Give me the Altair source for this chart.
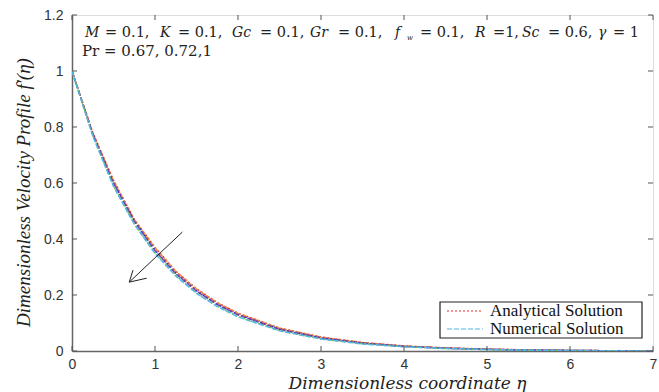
import altair as alt
import pandas as pd

eta = [0, 0.25, 0.5, 0.75, 1, 1.25, 1.5, 1.75, 2, 2.5, 3, 3.5, 4, 4.5, 5, 5.5, 6, 6.5, 7]
a_067 = [1, 0.78, 0.61, 0.47, 0.37, 0.285, 0.222, 0.173, 0.135, 0.082, 0.050, 0.030, 0.018, 0.011, 0.007, 0.004, 0.002, 0.001, 0.0]
n_067 = [1, 0.779, 0.608, 0.469, 0.368, 0.284, 0.221, 0.172, 0.134, 0.081, 0.049, 0.030, 0.018, 0.011, 0.006, 0.004, 0.002, 0.001, 0.0]
a_072 = [1, 0.775, 0.60, 0.465, 0.36, 0.278, 0.215, 0.167, 0.130, 0.078, 0.047, 0.028, 0.017, 0.010, 0.006, 0.0035, 0.002, 0.001, 0.0]
n_072 = [1, 0.774, 0.599, 0.463, 0.358, 0.276, 0.214, 0.166, 0.129, 0.077, 0.046, 0.028, 0.016, 0.010, 0.006, 0.003, 0.002, 0.001, 0.0]
a_1 = [1, 0.77, 0.59, 0.455, 0.35, 0.27, 0.207, 0.160, 0.123, 0.073, 0.043, 0.026, 0.015, 0.009, 0.005, 0.003, 0.0015, 0.0007, 0.0]
n_1 = [1, 0.768, 0.588, 0.453, 0.348, 0.268, 0.206, 0.159, 0.122, 0.072, 0.043, 0.025, 0.015, 0.009, 0.005, 0.003, 0.0015, 0.0007, 0.0]

series = {
    "Analytical Solution": a_067,
    "n067": n_067,
    "a072": a_072,
    "n072": n_072,
    "a1": a_1,
    "Numerical Solution": n_1,
}
series_order = ["Analytical Solution", "n067", "a072", "n072", "a1", "Numerical Solution"]
series_colors = ["#e8312a", "#f08a3c", "#2038c8", "#7a3aa8", "#7cc04a", "#4cb8e8"]
series_dash = [[2, 2], [5, 2], [2, 2], [5, 2], [2, 2], [5, 2]]

rows = []
for name in series_order:
    for e, v in zip(eta, series[name]):
        rows.append({"eta": e, "f": v, "series": name})
df = pd.DataFrame(rows)

# annotation arrow (data coordinates)
arrow_x = [1.33, 0.69]
arrow_y = [0.425, 0.246]
barb_x = [0.735, 0.90]
barb_y = [0.289, 0.26]

x_ticks = [0, 1, 2, 3, 4, 5, 6, 7]
y_ticks = [0, 0.2, 0.4, 0.6, 0.8, 1.0, 1.2]

# parameter annotation pieces
param_vars = ["M", "K", "Gc", "Gr", "f", "R", "Sc", "γ"]
param_var_x = [0.157, 1.060, 1.928, 2.867, 3.892, 4.855, 5.422, 6.337]
param_vals = ["= 0.1,", "= 0.1,", "= 0.1,", "= 0.1,", "= 0.1,", "=1,", "= 0.6,", "= 1"]
param_val_x = [0.398, 1.277, 2.265, 3.205, 4.193, 5.072, 5.735, 6.518]
param_y = 1.136
pr_text = "Pr = 0.67, 0.72,1"
pr_x, pr_y = 0.120, 1.07

legend_labels = ["Analytical Solution", "Numerical Solution"]
legend_colors = ["#e8312a", "#4cb8e8"]
legend_dash = [[2, 2], [5, 2]]

W, H = 581, 336
serif = "Liberation Serif"
dserif = "DejaVu Serif"
sans = "Liberation Sans"

xs = alt.Scale(domain=[0, 7], nice=False, zero=False)
ys = alt.Scale(domain=[0, 1.2], nice=False, zero=False)

lines = alt.Chart(df).mark_line(strokeWidth=1.5, clip=True).encode(
    x=alt.X("eta:Q", scale=xs,
            axis=alt.Axis(values=x_ticks, format="~g", title="Dimensionless coordinate η", ticks=False,
                          labelFont=sans, labelFontSize=14, labelColor="#333", labelFlush=False,
                          titleFont=dserif, titleFontStyle="italic", titleFontWeight="normal",
                          titleFontSize=17, titleColor="#222", titlePadding=4, titleX=335,
                          domainColor="#666", domainWidth=1.5, grid=False, labelPadding=6)),
    y=alt.Y("f:Q", scale=ys,
            axis=alt.Axis(values=y_ticks, format="~g", title="Dimensionless Velocity Profile  f′(η)", ticks=False,
                          labelFont=sans, labelFontSize=14, labelColor="#333", labelFlush=False,
                          titleFont=serif, titleFontStyle="italic", titleFontWeight="normal",
                          titleFontSize=19, titleColor="#222", titlePadding=10, titleY=177,
                          domainColor="#666", domainWidth=1.5, grid=False, labelPadding=9)),
    color=alt.Color("series:N", scale=alt.Scale(domain=series_order, range=series_colors), legend=None),
    strokeDash=alt.StrokeDash("series:N", scale=alt.Scale(domain=series_order, range=series_dash),
                              legend=None),
    order=alt.Order("eta:Q"),
)

arrow_df = pd.DataFrame({"x": arrow_x, "y": arrow_y})
arrow = alt.Chart(arrow_df).mark_line(color="#222", strokeWidth=1).encode(x="x:Q", y="y:Q")
barb_df = pd.DataFrame({"x": [arrow_x[1], arrow_x[1]], "y": [arrow_y[1], arrow_y[1]],
                        "x2": barb_x, "y2": barb_y})
barbs = alt.Chart(barb_df).mark_rule(color="#222", strokeWidth=1).encode(
    x="x:Q", y="y:Q", x2="x2:Q", y2="y2:Q")

xt_df = pd.DataFrame({"t": x_ticks})
yt_df = pd.DataFrame({"t": y_ticks})
tick_style = dict(color="#555", strokeWidth=1)
xt_bot = alt.Chart(xt_df).mark_rule(**tick_style).encode(x="t:Q", y=alt.value(H), y2=alt.value(H - 5))
xt_top = alt.Chart(xt_df).mark_rule(**tick_style).encode(x="t:Q", y=alt.value(0), y2=alt.value(5))
yt_left = alt.Chart(yt_df).mark_rule(**tick_style).encode(y="t:Q", x=alt.value(0), x2=alt.value(5))
yt_right = alt.Chart(yt_df).mark_rule(**tick_style).encode(y="t:Q", x=alt.value(W), x2=alt.value(W - 5))

var_df = pd.DataFrame({"text": param_vars, "x": param_var_x, "y": [param_y] * len(param_vars)})
val_df = pd.DataFrame({"text": param_vals, "x": param_val_x, "y": [param_y] * len(param_vals)})
sub_df = pd.DataFrame({"text": ["w"], "x": [4.036], "y": [param_y - 0.018]})
pr_df = pd.DataFrame({"text": [pr_text], "x": [pr_x], "y": [pr_y]})

vars_m = alt.Chart(var_df).mark_text(font=dserif, fontSize=14, fontStyle="italic",
                                     align="left", baseline="middle", color="#222").encode(
    x="x:Q", y="y:Q", text="text:N")
vals_m = alt.Chart(val_df).mark_text(font=dserif, fontSize=14.5,
                                     align="left", baseline="middle", color="#222").encode(
    x="x:Q", y="y:Q", text="text:N")
sub_m = alt.Chart(sub_df).mark_text(font=dserif, fontSize=7, fontStyle="italic",
                                    align="left", baseline="middle", color="#222").encode(
    x="x:Q", y="y:Q", text="text:N")
pr_m = alt.Chart(pr_df).mark_text(font=dserif, fontSize=15,
                                  align="left", baseline="middle", color="#222").encode(
    x="x:Q", y="y:Q", text="text:N")

# manual legend box (plot-area pixels)
leg_box = alt.Chart(pd.DataFrame({"k": [0]})).mark_rect(
    fill="white", stroke="#222", strokeWidth=1.2).encode(
    x=alt.value(368), x2=alt.value(570), y=alt.value(287), y2=alt.value(323))
leg_items = []
for i, (lab, col, dash) in enumerate(zip(legend_labels, legend_colors, legend_dash)):
    yy = 296 + i * 18
    d = pd.DataFrame({"label": [lab]})
    leg_items.append(alt.Chart(d).mark_rule(color=col, strokeDash=dash, strokeWidth=1.2).encode(
        x=alt.value(375), x2=alt.value(411), y=alt.value(yy)))
    leg_items.append(alt.Chart(d).mark_text(font=serif, fontSize=17, align="left",
                                            baseline="middle", color="#111").encode(
        x=alt.value(418), y=alt.value(yy), text="label:N"))

chart = alt.layer(lines, arrow, barbs, xt_bot, xt_top, yt_left, yt_right,
                  vars_m, vals_m, sub_m, pr_m, leg_box, *leg_items).properties(
    width=W, height=H,
    autosize=alt.AutoSizeParams(type="none"),
    padding={"left": 72, "top": 15, "right": 6, "bottom": 41},
).configure_view(stroke="#666", strokeWidth=1.5).configure(background="white")

chart.save("out.html", embed_options={"renderer": "svg", "actions": False})
